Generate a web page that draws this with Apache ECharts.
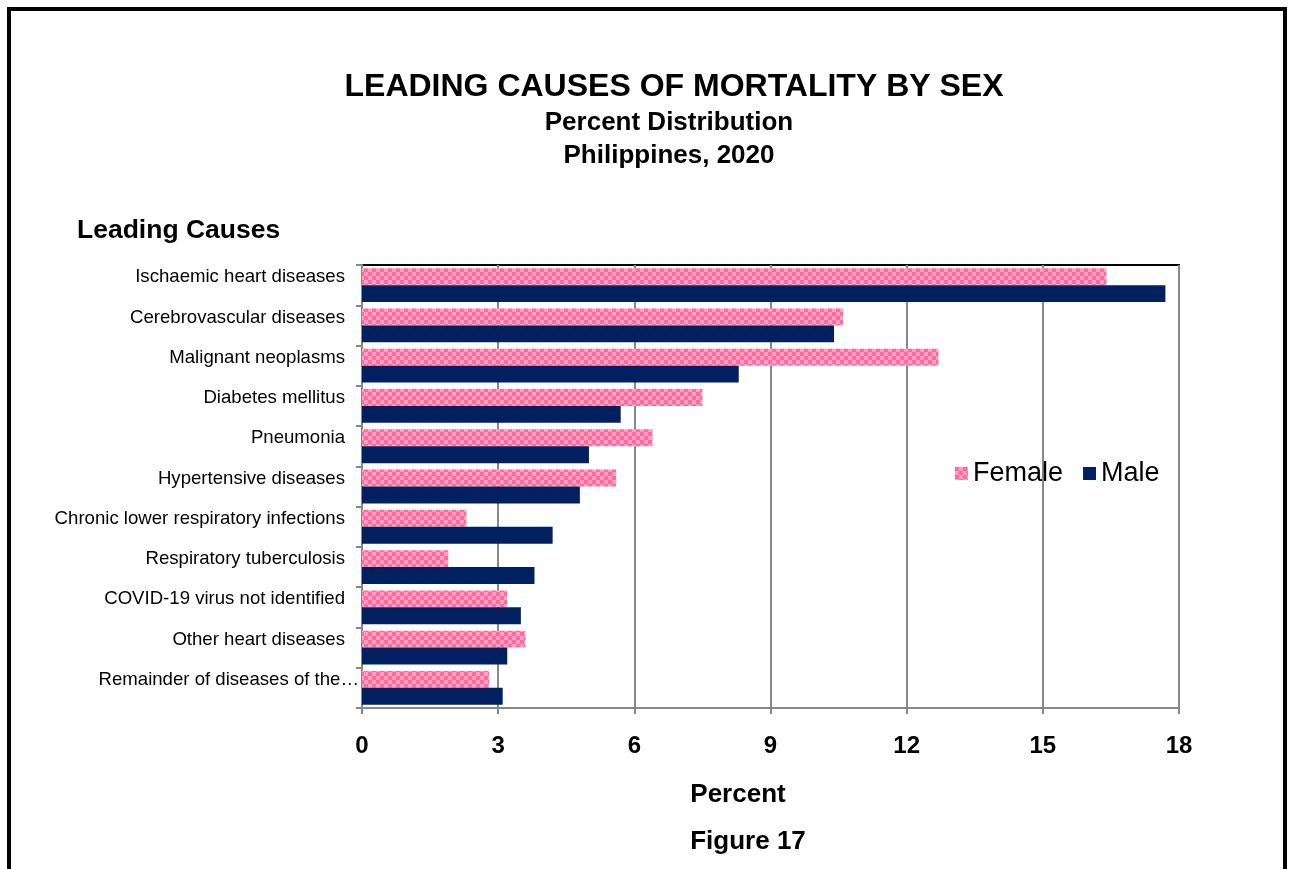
<!DOCTYPE html>
<html>
<head>
<meta charset="utf-8">
<script src="https://cdn.jsdelivr.net/npm/echarts@6/dist/echarts.min.js"></script>
<style>
  html, body { margin: 0; padding: 0; background: #fff; }
  #chart { width: 1289px; height: 869px; }
</style>
</head>
<body>
<div id="chart"></div>
<script>
// leading causes, top to bottom
var causes = [
  'Ischaemic heart diseases',
  'Cerebrovascular diseases',
  'Malignant neoplasms',
  'Diabetes mellitus',
  'Pneumonia',
  'Hypertensive diseases',
  'Chronic lower respiratory infections',
  'Respiratory tuberculosis',
  'COVID-19 virus not identified',
  'Other heart diseases',
  'Remainder of diseases of the\u2026'
];
var femaleValues = [16.4, 10.6, 12.7, 7.5, 6.4, 5.6, 2.3, 1.9, 3.2, 3.6, 2.8];
var maleValues = [17.7, 10.4, 8.3, 5.7, 5.0, 4.8, 4.2, 3.8, 3.5, 3.2, 3.1];
var xTicks = [0, 3, 6, 9, 12, 15, 18];

var FONT = '"Liberation Sans", Arial, sans-serif';

// checkerboard pink pattern for female bars
function makeChecker() {
  var c = document.createElement('canvas');
  c.width = 8; c.height = 8;
  var ctx = c.getContext('2d');
  ctx.fillStyle = '#ff6b9e';
  ctx.fillRect(0, 0, 8, 8);
  ctx.fillStyle = '#ffa0c0';
  ctx.fillRect(4, 0, 4, 4);
  ctx.fillRect(0, 4, 4, 4);
  return c;
}
var femaleFill = { image: makeChecker(), repeat: 'repeat' };

// the truncated last label runs past the others, as in the original
var causeItems = causes.map(function (c, i) {
  if (i === causes.length - 1) {
    return {
      value: c,
      textStyle: { padding: [0, -14, 0, 0], verticalAlign: 'bottom', lineHeight: 16 }
    };
  }
  return c;
});

var chart = echarts.init(document.getElementById('chart'));
chart.setOption({
  animation: false,
  backgroundColor: '#fff',
  textStyle: { fontFamily: FONT },
  graphic: [
    {
      type: 'rect',
      shape: { x: 9, y: 9, width: 1276, height: 900 },
      style: { fill: null, stroke: '#000', lineWidth: 4 },
      silent: true
    }
  ],
  title: [
    {
      text: 'LEADING CAUSES OF MORTALITY BY SEX',
      left: 669, top: 66, textAlign: 'center',
      textStyle: { fontFamily: FONT, fontSize: 32, fontWeight: 'bold', color: '#000' }
    },
    {
      text: 'Percent Distribution',
      left: 664, top: 105, textAlign: 'center',
      textStyle: { fontFamily: FONT, fontSize: 26, fontWeight: 'bold', color: '#000' }
    },
    {
      text: 'Philippines, 2020',
      left: 664, top: 138, textAlign: 'center',
      textStyle: { fontFamily: FONT, fontSize: 26, fontWeight: 'bold', color: '#000' }
    },
    {
      text: 'Leading Causes',
      left: 72, top: 212,
      textStyle: { fontFamily: FONT, fontSize: 26.5, fontWeight: 'bold', color: '#000' }
    },
    {
      text: 'Percent',
      left: 733, top: 777, textAlign: 'center',
      textStyle: { fontFamily: FONT, fontSize: 26, fontWeight: 'bold', color: '#000' }
    },
    {
      text: 'Figure 17',
      left: 743, top: 824, textAlign: 'center',
      textStyle: { fontFamily: FONT, fontSize: 26, fontWeight: 'bold', color: '#000' }
    }
  ],
  legend: {
    left: 950, top: 455,
    itemWidth: 13, itemHeight: 13, itemGap: 20,
    icon: 'rect',
    textStyle: { fontFamily: FONT, fontSize: 27, color: '#000' },
    data: ['Female', 'Male']
  },
  grid: {
    left: 362, right: 110, top: 265, bottom: 161,
    show: true, borderColor: '#000', borderWidth: 2, backgroundColor: 'transparent'
  },
  xAxis: {
    type: 'value',
    min: xTicks[0], max: xTicks[xTicks.length - 1], interval: 3,
    axisLine: { show: true, lineStyle: { color: '#888', width: 2 } },
    axisTick: { show: true, length: 6, lineStyle: { color: '#888', width: 2 } },
    splitLine: { show: true, lineStyle: { color: '#888', width: 2 } },
    axisLabel: { fontFamily: FONT, fontSize: 24, fontWeight: 'bold', color: '#000', margin: 26 }
  },
  yAxis: {
    type: 'category',
    inverse: true,
    data: causeItems,
    axisLine: { show: true, lineStyle: { color: '#888', width: 2 } },
    axisTick: { show: true, length: 6, lineStyle: { color: '#888', width: 2 } },
    axisLabel: { fontFamily: FONT, fontSize: 18.6, color: '#000', margin: 17, verticalAlign: 'bottom', lineHeight: 16 },
    splitLine: { show: false }
  },
  series: [
    {
      name: 'Female',
      type: 'bar',
      data: femaleValues,
      barGap: '0%',
      barCategoryGap: '16%',
      itemStyle: { color: femaleFill }
    },
    {
      name: 'Male',
      type: 'bar',
      data: maleValues,
      itemStyle: { color: '#00205f' }
    }
  ]
});
</script>
</body>
</html>
